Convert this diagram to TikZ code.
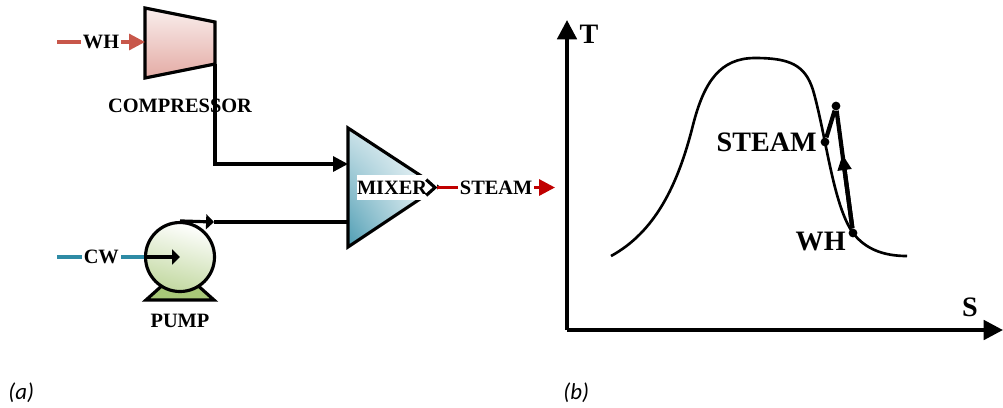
\documentclass[tikz,border=0pt]{standalone}
\usepackage{fontspec}
\setmainfont{Liberation Serif}
\newfontfamily\capfont{Carlito}
\usepackage{xcolor}
\definecolor{whred}{RGB}{200,87,74}
\definecolor{cwblue}{RGB}{46,139,165}
\definecolor{steamred}{RGB}{192,0,0}
\definecolor{pumpgreen}{RGB}{168,200,120}
\usetikzlibrary{arrows.meta, shadings, calc}
\tikzset{
  lbl/.style={font=\fontsize{11.6}{13}\selectfont\bfseries, inner sep=0pt, text=black},
  biglbl/.style={font=\fontsize{16}{18}\selectfont\bfseries, inner sep=0pt, text=black},
  capt/.style={font=\fontsize{13}{15}\capfont\itshape, inner sep=0pt},
  pipe/.style={line width=1.8pt, color=black},
  arrow/.style={line width=1.8pt, color=black, -{Triangle[length=8.5pt, width=8.5pt]}},
  shortarrow/.style={line width=1.8pt, color=black, -{Triangle[length=4.5pt, width=8.5pt]}},
  feed/.style={line width=1.8pt, color=#1, -{Triangle[length=9pt, width=9pt]}},
  axis/.style={line width=2.2pt, color=black, -{Triangle[length=11pt, width=11pt]}},
  cycle/.style={line width=2.4pt, color=black},
  dot/.style={circle, fill=black, inner sep=0pt, minimum size=5pt},
}
\begin{document}
\begin{tikzpicture}[x=0.02cm, y=-0.02cm]
  \useasboundingbox (0,0) rectangle (1003,407);

  % --- Compressor ---
  \coordinate (compTL) at (145,8);
  \coordinate (compTR) at (215,22);
  \coordinate (compBR) at (215,64);
  \coordinate (compBL) at (145,78);
  \coordinate (compin) at (145,42);
  \coordinate (whstart) at (57,42);
  \draw[pipe, top color=whred!10, bottom color=whred!50, line join=miter]
    (compTL) -- (compTR) -- (compBR) -- (compBL) -- cycle;
  \draw[feed=whred] (whstart) -- node[lbl, fill=white, inner xsep=1pt, pos=0.5] (whlabel) {WH} (compin);
  \node (complabel) [lbl] at (180,106) {COMPRESSOR};

  % --- Pump ---
  \draw[pipe, fill=pumpgreen] (146,300) -- (165,283) -- (195,283) -- (214,300) -- cycle;
  \node (pump) [circle, draw=black, line width=1.8pt, minimum size=1.38cm, inner sep=0pt,
        shading=axis, top color=white, bottom color=pumpgreen!70, shading angle=-15] at (180,257) {};
  \coordinate (pumpcenter) at (180,257);
  \coordinate (cwstart) at (57,257);
  \draw[line width=1.8pt, color=cwblue] (cwstart) -- node[lbl, fill=white, inner xsep=1pt, pos=0.51] (cwlabel) {CW} (pump.west);
  \draw[shortarrow] (pump.west) -- (pumpcenter);
  \node (pumplabel) [lbl] at (180,321) {PUMP};

  % --- Mixer ---
  \coordinate (mixT) at (348,128);
  \coordinate (mixB) at (348,247);
  \coordinate (mixtip) at (438,187);
  \draw[pipe, shade, upper left=cwblue!25, lower left=cwblue!85, upper right=white, lower right=cwblue!15, line join=miter]
    (mixT) -- (mixtip) -- (mixB) -- cycle;
  \node (mixlabel) [lbl, fill=white, minimum height=25*0.02cm, minimum width=80*0.02cm, text width=80*0.02cm, align=left] at (397,187.5) {MIXER};

  % --- Flujos ---
  \coordinate (mixin1) at (348,164);
  \coordinate (mixin2) at (348,222);
  \coordinate (pumpmid) at (214,222);
  \coordinate (steamend) at (555,187.5);
  \draw[arrow] (compBR) |- (mixin1);
  \draw[pipe] (pumpmid) -- (mixin2);
  \draw[shortarrow] (pump.north) -- (pumpmid);
  \draw[feed=steamred] (mixlabel.east) -- node[lbl, fill=white, inner xsep=1pt, pos=0.5] (steamlabel) {STEAM} (steamend);
  \draw[line width=1.8pt, -{Straight Barb[length=5pt, width=9pt]}] ($(mixlabel.east)+(-4,0)$) -- (mixlabel.east);

  % --- Diagrama T-S ---
  \coordinate (origin) at (567,330);
  \coordinate (taxis) at (567,20);
  \coordinate (saxis) at (1003,330);
  \draw[axis] (origin) -- (taxis);
  \draw[axis] (origin) -- (saxis);
  \node (tlabel) [biglbl] at (589,34) {T};
  \node (slabel) [biglbl] at (970,307) {S};
  \draw[line width=1.5pt] (611,256) .. controls (655,232) and (678,185) .. (693,125)
    .. controls (704,82) and (720,58) .. (755,58)
    .. controls (790,58) and (805,65) .. (813,90)
    .. controls (826,135) and (833,205) .. (853,233)
    .. controls (866,250) and (885,256) .. (907,256);
  \node (steampt) [dot] at (825,142) {};
  \node (toppt) [dot] at (836,106) {};
  \node (whpt) [dot] at (853,233) {};
  \coordinate (cyclemid) at ($(whpt)!0.62!(toppt)$);
  \draw[cycle] (steampt) -- (toppt) -- (whpt);
  \draw[cycle, -{Triangle[length=9pt, width=7.5pt]}] (whpt) -- (cyclemid);
  \node (steamts) [biglbl, anchor=east] at (817,142) {STEAM};
  \node (whts) [biglbl, anchor=east] at (846,241) {WH};

  % --- Captions ---
  \node (capa) [capt, anchor=west] at (8,393) {(a)};
  \node (capb) [capt, anchor=west] at (563,393) {(b)};
\end{tikzpicture}
\end{document}
